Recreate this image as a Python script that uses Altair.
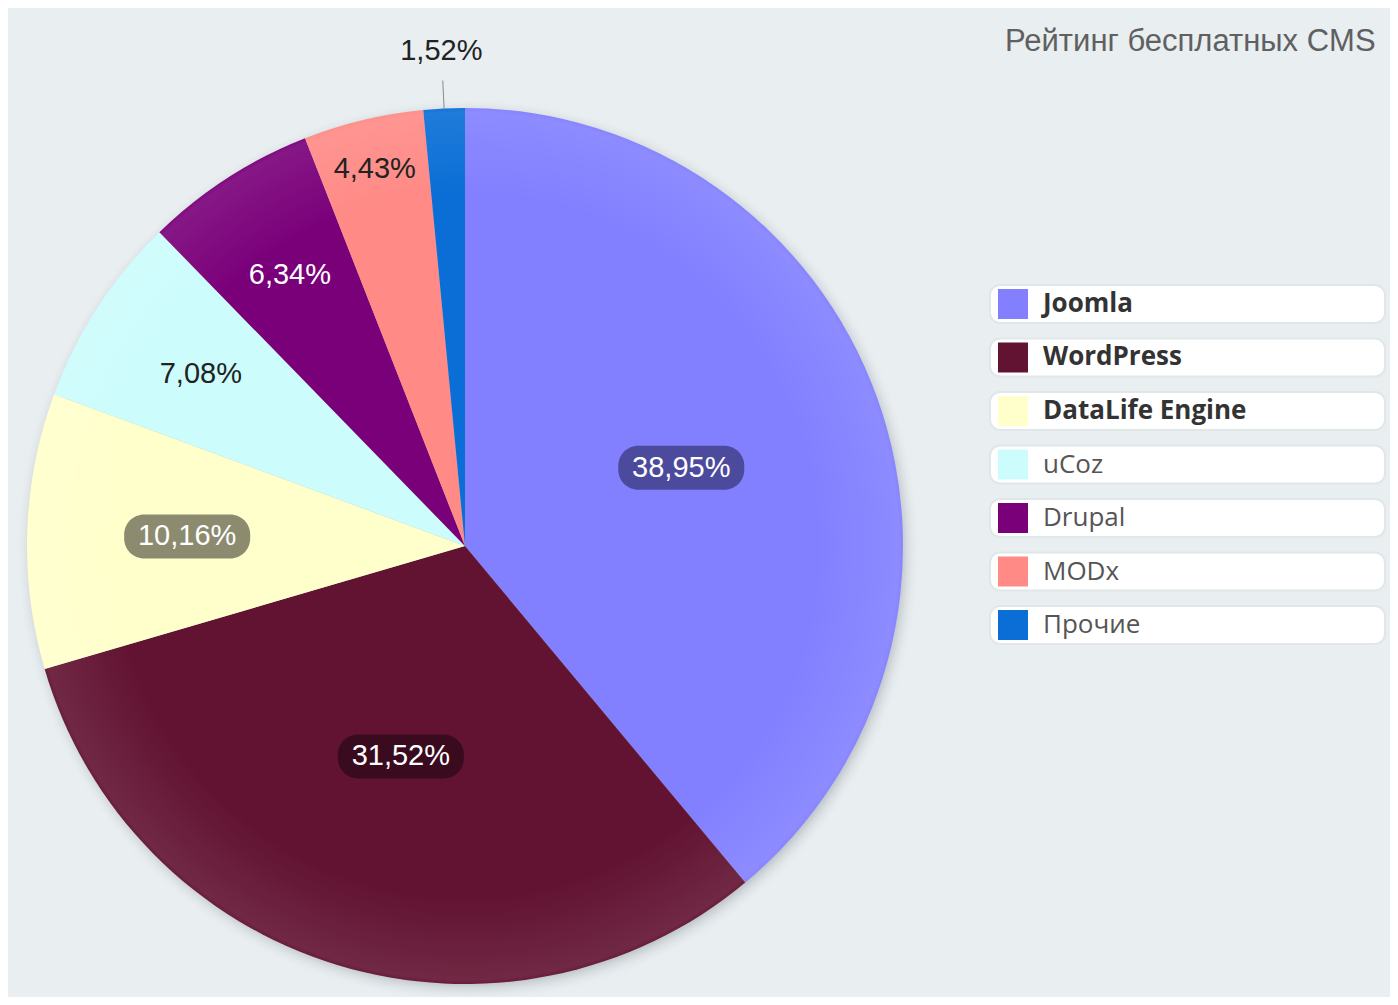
import altair as alt
import pandas as pd

# ---- data ----
CMS = ["Joomla", "WordPress", "DataLife Engine", "uCoz", "Drupal", "MODx", "Прочие"]
SHARE = [38.95, 31.52, 10.16, 7.08, 6.34, 4.43, 1.52]
LABELS = ["38,95%", "31,52%", "10,16%", "7,08%", "6,34%", "4,43%", "1,52%"]
TITLE = "Рейтинг бесплатных CMS"

# ---- styles / layout ----
COLORS = ["#8280ff", "#621331", "#ffffcc", "#ccfcfc", "#7a007a", "#ff8a86", "#0a6ed6"]
LABEL_R = [230, 220, 278, 315, 323, 388, 496]
LABEL_COLOR = ["#ffffff", "#ffffff", "#ffffff", "#222222", "#ffffff", "#222222", "#222222"]
BOX_COLOR = ["#4b4a9c", "#3a0b1f", "#8c8b70", "", "", "", ""]
BOLD = [True, True, True, False, False, False, False]
BG = "#e9eef1"
CX, CY, R = 457, 538, 438

df = pd.DataFrame({
    "cms": CMS, "share": SHARE, "label": LABELS, "idx": list(range(len(CMS))),
    "lr": LABEL_R, "tcol": LABEL_COLOR, "box": BOX_COLOR, "bold": BOLD,
})

color_scale = alt.Scale(domain=CMS, range=COLORS)
base = alt.Chart(df)

one = alt.Chart(pd.DataFrame({"k": [0]}))

shadow = one.mark_arc(
    theta=0, theta2=6.2832, radius=452,
    fill=alt.RadialGradient(
        gradient="radial", x1=0.5, y1=0.5, r1=0, x2=0.5, y2=0.5, r2=0.5,
        stops=[
            alt.GradientStop(offset=0, color="rgba(110,120,125,0.45)"),
            alt.GradientStop(offset=0.955, color="rgba(110,120,125,0.40)"),
            alt.GradientStop(offset=1, color="rgba(233,238,241,0)"),
        ],
    ),
).encode(x=alt.value(CX + 3), y=alt.value(CY + 4))

pie = base.mark_arc(radius=R).encode(
    theta=alt.Theta("share:Q", stack=True),
    color=alt.Color("cms:N", scale=color_scale, legend=None),
    order=alt.Order("idx:Q"),
    x=alt.value(CX), y=alt.value(CY),
)

# subtle light rim like the reference's shading
rim = one.mark_arc(
    theta=0, theta2=6.2832, radius=R,
    fill=alt.RadialGradient(
        gradient="radial", x1=0.5, y1=0.5, r1=0, x2=0.5, y2=0.5, r2=0.5,
        stops=[
            alt.GradientStop(offset=0, color="rgba(255,255,255,0)"),
            alt.GradientStop(offset=0.8, color="rgba(255,255,255,0)"),
            alt.GradientStop(offset=0.99, color="rgba(255,255,255,0.09)"),
            alt.GradientStop(offset=1, color="rgba(255,255,255,0.04)"),
        ],
    ),
).encode(x=alt.value(CX), y=alt.value(CY))

pos = (
    base.transform_joinaggregate(total="sum(share)")
    .transform_window(cum="sum(share)", sort=[alt.SortField("idx")], frame=[None, 0])
    .transform_calculate(ang="2*PI*(datum.cum - datum.share/2)/datum.total")
    .transform_calculate(
        lx=f"{CX} + datum.lr*sin(datum.ang)",
        ly=f"{CY} - datum.lr*cos(datum.ang)",
        rx1=f"{CX} + {R}*sin(datum.ang)",
        ry1=f"{CY} - {R}*cos(datum.ang)",
        rx2=f"{CX} + {R + 28}*sin(datum.ang)",
        ry2=f"{CY} - {R + 28}*cos(datum.ang)",
    )
)

boxes = pos.transform_filter("datum.box != ''").transform_calculate(
    bx1="datum.lx - 63", bx2="datum.lx + 63", by1="datum.ly - 22", by2="datum.ly + 22"
).mark_rect(cornerRadius=20).encode(
    x=alt.X("bx1:Q", scale=None), x2="bx2:Q",
    y=alt.Y("by1:Q", scale=None), y2="by2:Q",
    fill=alt.Fill("box:N", scale=None),
)

leader = pos.transform_filter(f"datum.lr > {R}").mark_rule(color="#8a8a8a", strokeWidth=1).encode(
    x=alt.X("rx1:Q", scale=None), y=alt.Y("ry1:Q", scale=None),
    x2="rx2:Q", y2="ry2:Q",
)

labels = pos.mark_text(
    font="Liberation Sans", fontSize=29, align="center", baseline="middle"
).encode(
    x=alt.X("lx:Q", scale=None), y=alt.Y("ly:Q", scale=None),
    text="label:N",
    fill=alt.Fill("tcol:N", scale=None),
)

yscale = alt.Scale(domain=CMS, range=[277, 636], paddingInner=0.29, paddingOuter=0)
rows = base.mark_rect(cornerRadius=10, fill="#ffffff", stroke="#e1e6e9", strokeWidth=2).encode(
    y=alt.Y("cms:N", sort=CMS, scale=yscale, axis=None),
    x=alt.value(982), x2=alt.value(1377),
)
swatch = base.mark_square(size=900, opacity=1).encode(
    y=alt.Y("cms:N", sort=CMS, scale=yscale, axis=None),
    x=alt.value(1005),
    color=alt.Color("cms:N", scale=color_scale, legend=None),
)
ltext_b = base.transform_filter("datum.bold").mark_text(
    font="Open Sans", fontSize=26, fontWeight="bold", align="left", baseline="middle", color="#333333"
).encode(
    y=alt.Y("cms:N", sort=CMS, scale=yscale, axis=None), x=alt.value(1035), text="cms:N",
)
ltext_n = base.transform_filter("!datum.bold").mark_text(
    font="Open Sans", fontSize=26, align="left", baseline="middle", color="#555555"
).encode(
    y=alt.Y("cms:N", sort=CMS, scale=yscale, axis=None), x=alt.value(1035), text="cms:N",
)

title = one.mark_text(
    text=TITLE, font="Liberation Sans", fontSize=31, align="left", baseline="middle", color="#606060"
).encode(x=alt.value(997), y=alt.value(34))

chart = alt.layer(
    shadow, pie, rim, boxes, leader, labels, rows, swatch, ltext_b, ltext_n, title
).properties(
    width=1382, height=989, background=BG, padding=0, autosize="none"
).configure_view(stroke=None)

chart.save("out.html", embed_options={"renderer": "svg", "actions": False})
